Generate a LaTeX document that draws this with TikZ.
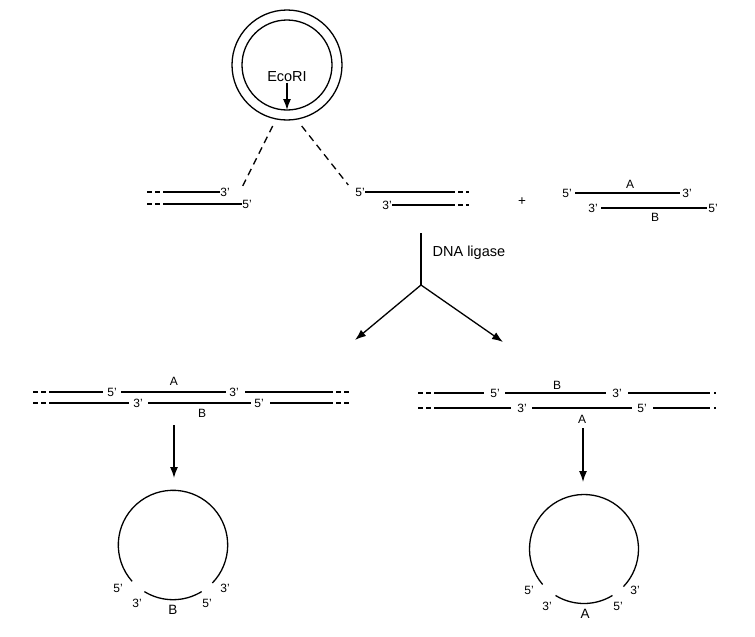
\documentclass[tikz,border=0pt]{standalone}
\usepackage{fontspec}
\setmainfont{Liberation Sans}
\usetikzlibrary{arrows.meta}
\begin{document}
\begin{tikzpicture}[x=1pt,y=-1pt,line width=1.3pt,
  lab/.style={font=\fontsize{12}{12}\selectfont,inner sep=0pt},
  big/.style={font=\fontsize{14.5}{14.5}\selectfont,inner sep=0pt},
  mid/.style={font=\fontsize{13.5}{13.5}\selectfont,inner sep=0pt},
  endd/.style={dash pattern=on 5pt off 3pt},
  cutd/.style={dash pattern=on 7pt off 5pt},
  arr/.style={-{Latex[length=11pt,width=8pt]}},
  ring/.style={circle,draw,inner sep=0pt}]
\useasboundingbox (0,0) rectangle (755,637);

% plasmid
\node[ring,minimum size=110pt] (outer) at (287,65) {};
\node[ring,minimum size=90pt] (inner) at (287,65) {};
\node[big] (eco) at (287,77) {EcoRI};
\coordinate (cut) at (287,110);
\draw[arr] (eco.south) -- (cut);

% cut dashed lines
\coordinate (dl1) at (272.7,126); \coordinate (dl2) at (241.7,188);
\coordinate (dr1) at (301.7,126); \coordinate (dr2) at (348.3,185);
\draw[cutd] (dl1) -- (dl2);
\draw[cutd] (dr1) -- (dr2);

% left fragment
\node[lab] (l3) at (225,192) {3'};
\node[lab] (l5) at (247,204) {5'};
\draw[endd] (147,192) -- (163,192); \draw (163,192) -- (l3.west);
\draw[endd] (147,204) -- (163,204); \draw (163,204) -- (l5.west);

% right fragment
\node[lab] (r5) at (360,192) {5'};
\node[lab] (r3) at (387,205) {3'};
\draw (r5.east) -- (450,192); \draw[endd] (450,192) -- (469,192);
\draw (r3.east) -- (450,205); \draw[endd] (450,205) -- (469,205);

% plus
\node[mid] (plus) at (522,202) {+};

% insert
\node[lab] (i5a) at (567,193) {5'};
\node[lab] (i3a) at (687,193) {3'};
\node[lab] (iA) at (630,184) {A};
\node[lab] (i3b) at (593,208) {3'};
\node[lab] (i5b) at (713,208) {5'};
\node[lab] (iB) at (655,217) {B};
\draw (i5a.east) ++(3,0) -- ([xshift=-2pt]i3a.west);
\draw (i3b.east) ++(3,0) -- ([xshift=-1pt]i5b.west);

% ligase
\coordinate (lt) at (421,233);
\coordinate (lb) at (421,285);
\draw (lt) -- (lb);
\node[big,anchor=west] (lig) at (432,253) {DNA ligase};
\coordinate (al) at (355,340);
\coordinate (ar) at (503,342);
\draw[arr] (lb) -- (al);
\draw[arr] (lb) -- (ar);

% bottom-left product
\node[lab] (a5) at (112,392) {5'};
\node[lab] (a3) at (234,392) {3'};
\node[lab] (aA) at (174,381) {A};
\node[lab] (b3) at (138,403) {3'};
\node[lab] (b5) at (259,403) {5'};
\node[lab] (bB) at (202,413) {B};
\draw[endd] (33,392) -- (52,392); \draw (52,392) -- (103,392);
\draw (121,392) -- (226,392);
\draw (245,392) -- (328,392); \draw[endd] (328,392) -- (349,392);
\draw[endd] (33,403) -- (52,403); \draw (52,403) -- (129,403);
\draw (148,403) -- (251,403);
\draw (270,403) -- (328,403); \draw[endd] (328,403) -- (349,403);
\coordinate (da1) at (174,425); \coordinate (da2) at (174,478);
\draw[arr] (da1) -- (da2);

% bottom-right product
\node[lab] (c5) at (495,393) {5'};
\node[lab] (c3) at (617,393) {3'};
\node[lab] (cB) at (557,385) {B};
\node[lab] (d3) at (522,408) {3'};
\node[lab] (d5) at (642,408) {5'};
\node[lab] (dA) at (582,419) {A};
\draw[endd] (418,393) -- (435,393); \draw (435,393) -- (484,393);
\draw (505,393) -- (606,393);
\draw (628,393) -- (710,393); \draw (714,393) -- (716,393);
\draw[endd] (418,408) -- (435,408); \draw (435,408) -- (511,408);
\draw (532,408) -- (632,408);
\draw (653,408) -- (710,408); \draw (714,408) -- (716,408);
\coordinate (db1) at (583,428); \coordinate (db2) at (583,482);
\draw[arr] (db1) -- (db2);

% left recombinant circle
\coordinate (cl) at (173,545);
\draw (cl) ++(138.4:54.7) arc[start angle=138.4,end angle=404,radius=54.7];
\draw (cl) ++(58.4:54.7) arc[start angle=58.4,end angle=121.6,radius=54.7];
\node[lab] (e1) at (118,588) {5'};
\node[lab] (e2) at (137,603) {3'};
\node[mid] (e3) at (173,610) {B};
\node[lab] (e4) at (207,603) {5'};
\node[lab] (e5) at (225,588) {3'};

% right recombinant circle
\coordinate (cr) at (584,549);
\draw (cr) ++(139.4:54.5) arc[start angle=139.4,end angle=403.6,radius=54.5];
\draw (cr) ++(58.5:54.5) arc[start angle=58.5,end angle=121.5,radius=54.5];
\node[lab] (f1) at (529,590) {5'};
\node[lab] (f2) at (547,606) {3'};
\node[mid] (f3) at (585,614) {A};
\node[lab] (f4) at (618,606) {5'};
\node[lab] (f5) at (635,590) {3'};
\end{tikzpicture}
\end{document}
